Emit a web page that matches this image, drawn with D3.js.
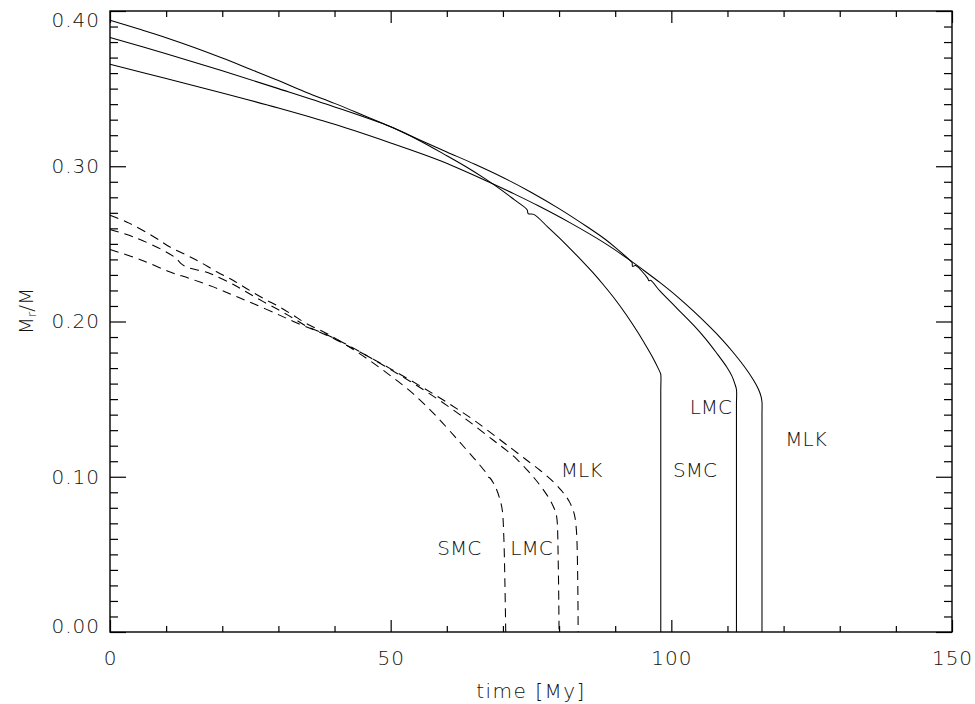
<!DOCTYPE html>
<html>
<head>
<meta charset="utf-8">
<script src="https://cdn.jsdelivr.net/npm/d3@7"></script>
<style>
  html, body { margin: 0; padding: 0; background: #fff; }
  svg text { font-family: "DejaVu Sans", sans-serif; font-weight: 200; fill: #111; }
</style>
</head>
<body>
<svg id="chart" width="975" height="704"></svg>
<script>
// Fractional mass of the convective core, M_r/M, versus time [My]
// Solid: first model set; dashed: second model set (SMC, LMC, MLK compositions)

const smcSolidT = [0, 5, 10, 15, 20, 25, 30, 35, 40, 45, 50, 55, 60, 63.5, 66.8, 70, 72, 74.3, 74.5, 75.5, 78, 80, 82, 84, 86, 88, 90, 92, 94, 95.5, 96.8, 97.6, 98.0, 98.12, 98.12, 98.12];
const smcSolidV = [0.394, 0.3885, 0.3828, 0.3765, 0.3697, 0.3625, 0.3552, 0.3475, 0.3405, 0.3330, 0.3254, 0.3168, 0.3068, 0.2995, 0.2920, 0.2840, 0.2785, 0.2720, 0.2695, 0.2690, 0.2608, 0.2540, 0.2468, 0.2394, 0.2316, 0.2232, 0.2142, 0.2042, 0.1932, 0.1842, 0.1760, 0.1703, 0.1672, 0.1660, 0.1550, 0];

const lmcSolidT = [0, 10, 20, 30, 40, 50, 55, 60, 65, 70, 75, 80, 85, 88.2, 90, 92.6, 93.0, 93.1, 93.6, 95.8, 96.0, 96.3, 98, 101, 104, 106, 108, 109.9, 110.8, 111.3, 111.6, 111.6, 111.6];
const lmcSolidV = [0.383, 0.3725, 0.3615, 0.3500, 0.3382, 0.3254, 0.3172, 0.3092, 0.3013, 0.2928, 0.2833, 0.2727, 0.2610, 0.2530, 0.2478, 0.2395, 0.2380, 0.2355, 0.2360, 0.2278, 0.2262, 0.2265, 0.2195, 0.2085, 0.1975, 0.1893, 0.1800, 0.1705, 0.1648, 0.1600, 0.1562, 0.1460, 0];

const mlkSolidT = [0, 10, 20, 30, 40, 50, 58.5, 66.8, 72, 76.3, 82, 88.2, 92.6, 95, 98, 101, 104, 107, 109, 111, 113, 114.6, 115.5, 116.0, 116.15, 116.15, 116.15];
const mlkSolidV = [0.3657, 0.3565, 0.3472, 0.3375, 0.3270, 0.3150, 0.3040, 0.2910, 0.2822, 0.2745, 0.2635, 0.2503, 0.2395, 0.2332, 0.2250, 0.2162, 0.2065, 0.1960, 0.1885, 0.1802, 0.1710, 0.1625, 0.1565, 0.1515, 0.1480, 0.1400, 0];

const smcDashT = [0, 3.5, 8.3, 10.6, 13.6, 16, 19, 21.9, 24.3, 27.3, 30.2, 32.6, 35, 38.6, 42, 46, 50, 54, 58, 61.4, 63, 65.3, 67.1, 67.4, 67.7, 68.3, 68.9, 69.5, 69.9, 70.15, 70.35, 70.5];
const smcDashV = [0.2685, 0.2632, 0.2535, 0.2481, 0.2428, 0.2384, 0.2320, 0.2266, 0.2213, 0.2149, 0.2094, 0.2041, 0.1987, 0.1923, 0.1850, 0.1755, 0.1650, 0.1535, 0.1395, 0.1260, 0.1195, 0.1100, 0.1020, 0.0998, 0.0992, 0.0960, 0.0915, 0.0850, 0.0780, 0.0620, 0.0320, 0];

const lmcDashT = [0, 4.1, 9.4, 11.8, 12.6, 13.6, 17.5, 19, 21.9, 24.3, 27.3, 30.2, 32.6, 35, 38.6, 42, 46, 50, 55, 60, 64, 68.3, 70.6, 72.5, 74.2, 75.5, 76.6, 77.8, 78.7, 79.3, 79.6, 79.85, 80.0];
const lmcDashV = [0.2593, 0.2546, 0.2460, 0.2406, 0.2375, 0.2352, 0.2314, 0.2290, 0.2240, 0.2190, 0.2128, 0.2072, 0.2022, 0.1970, 0.1915, 0.1855, 0.1775, 0.1690, 0.1580, 0.1460, 0.1355, 0.1235, 0.1171, 0.1112, 0.1048, 0.0995, 0.0945, 0.0885, 0.0830, 0.0780, 0.0735, 0.0450, 0];

const mlkDashT = [0, 5.3, 10.6, 14.2, 18.4, 21.9, 25.5, 30.2, 33.2, 36.2, 38.6, 42, 46, 50, 55, 60, 65, 70, 72.4, 74.5, 76.6, 79, 80.4, 81.4, 81.9, 82.5, 82.8, 83.1, 83.3, 83.4];
const mlkDashV = [0.2464, 0.2400, 0.2320, 0.2277, 0.2223, 0.2170, 0.2116, 0.2041, 0.1992, 0.1948, 0.1912, 0.1850, 0.1775, 0.1695, 0.1590, 0.1480, 0.1360, 0.1224, 0.1158, 0.1100, 0.1042, 0.0967, 0.0912, 0.0865, 0.0835, 0.0785, 0.0745, 0.0650, 0.0400, 0];

// Curve labels, anchored in data units (time, M_r/M)
const labelNames = ["SMC", "LMC", "MLK", "SMC", "LMC", "MLK"];
const labelT = [104.2, 107.05, 124.0, 62.2, 75.1, 84.0];
const labelV = [0.1042, 0.1450, 0.1244, 0.0544, 0.0544, 0.1042];

// Axis ticks
const xMajorTicks = [0, 50, 100, 150];
const xMinorTicks = [10, 20, 30, 40, 60, 70, 80, 90, 110, 120, 130, 140];
const yMajorTicks = [0.0, 0.1, 0.2, 0.3, 0.4];
const yMinorTicks = d3.range(1, 40).filter(i => i % 10 !== 0).map(i => i / 100);

const xTitle = "time [My]";

const W = 975, H = 704;
const margin = { left: 110, right: 23, top: 11, bottom: 72 };
const pw = W - margin.left - margin.right;
const ph = H - margin.top - margin.bottom;

const svg = d3.select("#chart");
const g = svg.append("g").attr("transform", `translate(${margin.left},${margin.top})`);

const x = d3.scaleLinear().domain([0, 150]).range([0, pw]);
const y = d3.scaleLinear().domain([0, 0.4]).range([ph, 0]);

const series = [
  { t: smcSolidT, v: smcSolidV, dash: null },
  { t: lmcSolidT, v: lmcSolidV, dash: null },
  { t: mlkSolidT, v: mlkSolidV, dash: null },
  { t: smcDashT, v: smcDashV, dash: "9,6" },
  { t: lmcDashT, v: lmcDashV, dash: "9,6" },
  { t: mlkDashT, v: mlkDashV, dash: "9,6" }
];

const line = d3.line()
  .x(d => x(d[0]))
  .y(d => y(d[1]))
  .curve(d3.curveCatmullRom.alpha(0.5));

g.selectAll("path.curve")
  .data(series)
  .join("path")
  .attr("class", "curve")
  .attr("fill", "none")
  .attr("stroke", "#000")
  .attr("stroke-width", 1.05)
  .attr("stroke-dasharray", d => d.dash)
  .attr("d", d => line(d.t.map((t, i) => [t, d.v[i]])));

// Axes: ticks point inward on all four sides
function styleAxis(sel) {
  sel.select(".domain").remove();
  sel.selectAll(".tick line").attr("stroke", "#000").attr("stroke-width", 1.2);
}

const fmtY = d3.format(".2f");

g.append("g").call(d3.axisLeft(y).tickValues(yMinorTicks).tickSize(-8).tickFormat("")).call(styleAxis);
const yAx = g.append("g").call(d3.axisLeft(y).tickValues(yMajorTicks).tickSize(-16).tickPadding(10).tickFormat(fmtY)).call(styleAxis);
yAx.selectAll("text")
  .attr("font-size", 20).attr("letter-spacing", 1).attr("font-family", null).attr("fill", "#111")
  .attr("dy", d => d >= 0.4 ? "0.77em" : d <= 0 ? "0em" : "0.32em");

g.append("g").attr("transform", `translate(${pw},0)`).call(d3.axisRight(y).tickValues(yMinorTicks).tickSize(-8).tickFormat("")).call(styleAxis);
g.append("g").attr("transform", `translate(${pw},0)`).call(d3.axisRight(y).tickValues(yMajorTicks).tickSize(-16).tickFormat("")).call(styleAxis);

g.append("g").attr("transform", `translate(0,${ph})`).call(d3.axisBottom(x).tickValues(xMinorTicks).tickSize(-6).tickFormat("")).call(styleAxis);
const xAx = g.append("g").attr("transform", `translate(0,${ph})`).call(d3.axisBottom(x).tickValues(xMajorTicks).tickSize(-12).tickPadding(19).tickFormat(d3.format("d"))).call(styleAxis);
xAx.selectAll("text").attr("font-size", 20).attr("letter-spacing", 1).attr("font-family", null).attr("fill", "#111");

g.append("g").call(d3.axisTop(x).tickValues(xMinorTicks).tickSize(-6).tickFormat("")).call(styleAxis);
g.append("g").call(d3.axisTop(x).tickValues(xMajorTicks).tickSize(-12).tickFormat("")).call(styleAxis);

// Plot frame
g.append("rect")
  .attr("x", 0).attr("y", 0).attr("width", pw).attr("height", ph)
  .attr("fill", "none").attr("stroke", "#000").attr("stroke-width", 1.4);

// Curve labels
g.selectAll("text.lab")
  .data(labelNames)
  .join("text")
  .attr("class", "lab")
  .attr("x", (d, i) => x(labelT[i]))
  .attr("y", (d, i) => y(labelV[i]))
  .attr("dy", "0.36em")
  .attr("text-anchor", "middle")
  .attr("font-size", 20)
  .text(d => d);

// Axis titles
svg.append("text")
  .attr("x", margin.left + pw / 2)
  .attr("y", 698)
  .attr("text-anchor", "middle")
  .attr("font-size", 20)
  .attr("letter-spacing", 1.5)
  .text(xTitle);

const yt = svg.append("text")
  .attr("transform", "translate(33,311) rotate(-90)")
  .attr("text-anchor", "middle")
  .attr("font-size", 20);
yt.append("tspan").text("M");
yt.append("tspan").attr("font-size", 13).attr("dy", 3).text("r");
yt.append("tspan").attr("dy", -3).text("/M");
</script>
</body>
</html>
